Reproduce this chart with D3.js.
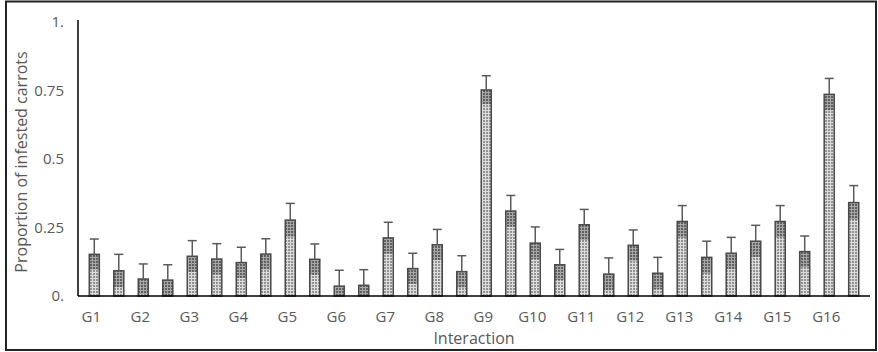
<!DOCTYPE html>
<html>
<head>
<meta charset="utf-8">
<script src="https://cdn.jsdelivr.net/npm/d3@7"></script>
<style>
  body { margin: 0; background: #fff; }
  svg { display: block; font-family: "Open Sans", "Noto Sans", sans-serif; }
</style>
</head>
<body>
<svg id="chart" width="878" height="352"></svg>
<script>
const groups = ['G1','G2','G3','G4','G5','G6','G7','G8','G9','G10','G11','G12','G13','G14','G15','G16'];

// two bars per interaction
const means = [0.152, 0.092, 0.062, 0.058, 0.145, 0.135, 0.122, 0.153,
               0.277, 0.134, 0.036, 0.039, 0.212, 0.100, 0.187, 0.089,
               0.752, 0.310, 0.193, 0.114, 0.260, 0.080, 0.185, 0.083,
               0.272, 0.141, 0.156, 0.200, 0.272, 0.162, 0.736, 0.341];

const errors = [0.056, 0.060, 0.055, 0.056, 0.057, 0.056, 0.056, 0.056,
                0.061, 0.056, 0.058, 0.057, 0.057, 0.056, 0.056, 0.058,
                0.052, 0.057, 0.059, 0.056, 0.056, 0.059, 0.056, 0.058,
                0.058, 0.059, 0.058, 0.058, 0.058, 0.057, 0.058, 0.062];

const yTicks = [0, 0.25, 0.5, 0.75, 1];
const yTickLabels = ['0.', '0.25', '0.5', '0.75', '1.'];

const X0 = 78, X1 = 870, Y0 = 296, Y1 = 22;
const TEXT = '#595959';

const svg = d3.select('#chart');

const defs = svg.append('defs');
const dots = defs.append('pattern')
    .attr('id', 'dots')
    .attr('patternUnits', 'userSpaceOnUse')
    .attr('width', 3).attr('height', 3);
dots.append('rect').attr('width', 3).attr('height', 3).attr('fill', '#dcdcdc');
dots.append('rect').attr('x', 0).attr('y', 0).attr('width', 2).attr('height', 2).attr('fill', '#939393');

const dotsDark = defs.append('pattern')
    .attr('id', 'dotsDark')
    .attr('patternUnits', 'userSpaceOnUse')
    .attr('width', 3).attr('height', 3);
dotsDark.append('rect').attr('width', 3).attr('height', 3).attr('fill', '#9a9a9a');
dotsDark.append('rect').attr('x', 0).attr('y', 0).attr('width', 2).attr('height', 2).attr('fill', '#555');

// frame
svg.append('rect')
    .attr('x', 6).attr('y', 1.5)
    .attr('width', 870).attr('height', 348.5)
    .attr('fill', 'none')
    .attr('stroke', '#222')
    .attr('stroke-width', 2);

const x = d3.scaleBand()
    .domain(d3.range(means.length))
    .range([X0, X1])
    .paddingInner(0.59)
    .paddingOuter(0.46);

const y = d3.scaleLinear().domain([0, 1]).range([Y0, Y1]);

// y tick labels
svg.append('g')
    .selectAll('text')
    .data(yTicks)
    .join('text')
    .attr('x', 64)
    .attr('y', d => y(d))
    .attr('dy', '0.35em')
    .attr('text-anchor', 'end')
    .attr('fill', TEXT)
    .style('font-size', '15px')
    .text((d, i) => yTickLabels[i]);

const bw = x.bandwidth();

const bars = svg.append('g')
    .selectAll('g')
    .data(means.map((m, i) => ({m, e: errors[i], i})))
    .join('g');

bars.append('rect')
    .attr('x', d => x(d.i))
    .attr('y', d => y(d.m))
    .attr('width', bw)
    .attr('height', d => Y0 - y(d.m))
    .attr('fill', 'url(#dots)');

// lower error range drawn over the bar top
bars.append('rect')
    .attr('x', d => x(d.i))
    .attr('y', d => y(d.m))
    .attr('width', bw)
    .attr('height', d => y(Math.max(0, d.m - d.e)) - y(d.m))
    .attr('fill', 'url(#dotsDark)')
    .attr('opacity', 0.8);

bars.append('rect')
    .attr('x', d => x(d.i))
    .attr('y', d => y(d.m))
    .attr('width', bw)
    .attr('height', d => Y0 - y(d.m))
    .attr('fill', 'none')
    .attr('stroke', '#4a4a4a')
    .attr('stroke-width', 1.5);

// error bars (upper side visible)
bars.append('line')
    .attr('x1', d => x(d.i) + bw / 2)
    .attr('x2', d => x(d.i) + bw / 2)
    .attr('y1', d => y(d.m))
    .attr('y2', d => y(d.m + d.e))
    .attr('stroke', '#5a5a5a')
    .attr('stroke-width', 1.5);

bars.append('line')
    .attr('x1', d => x(d.i) + bw / 2 - 4.5)
    .attr('x2', d => x(d.i) + bw / 2 + 4.5)
    .attr('y1', d => y(d.m + d.e))
    .attr('y2', d => y(d.m + d.e))
    .attr('stroke', '#5a5a5a')
    .attr('stroke-width', 1.5);

// axes lines
svg.append('line')
    .attr('x1', X0).attr('x2', X0)
    .attr('y1', 20).attr('y2', Y0)
    .attr('stroke', '#000').attr('stroke-width', 1.5);
svg.append('line')
    .attr('x1', X0).attr('x2', X1)
    .attr('y1', Y0).attr('y2', Y0)
    .attr('stroke', '#000').attr('stroke-width', 1.5);

// category labels, under the first bar of each pair
svg.append('g')
    .selectAll('text')
    .data(groups)
    .join('text')
    .attr('x', (d, i) => x(i * 2) + bw / 2 - 3)
    .attr('y', 317)
    .attr('dy', '0.35em')
    .attr('text-anchor', 'middle')
    .attr('fill', TEXT)
    .style('font-size', '15px')
    .text(d => d);

svg.append('text')
    .attr('x', 474)
    .attr('y', 338)
    .attr('dy', '0.35em')
    .attr('text-anchor', 'middle')
    .attr('fill', TEXT)
    .style('font-size', '16px')
    .text('Interaction');

svg.append('text')
    .attr('transform', 'translate(21,162) rotate(-90)')
    .attr('dy', '0.35em')
    .attr('text-anchor', 'middle')
    .attr('fill', TEXT)
    .style('font-size', '16px')
    .text('Proportion of infested carrots');
</script>
</body>
</html>
